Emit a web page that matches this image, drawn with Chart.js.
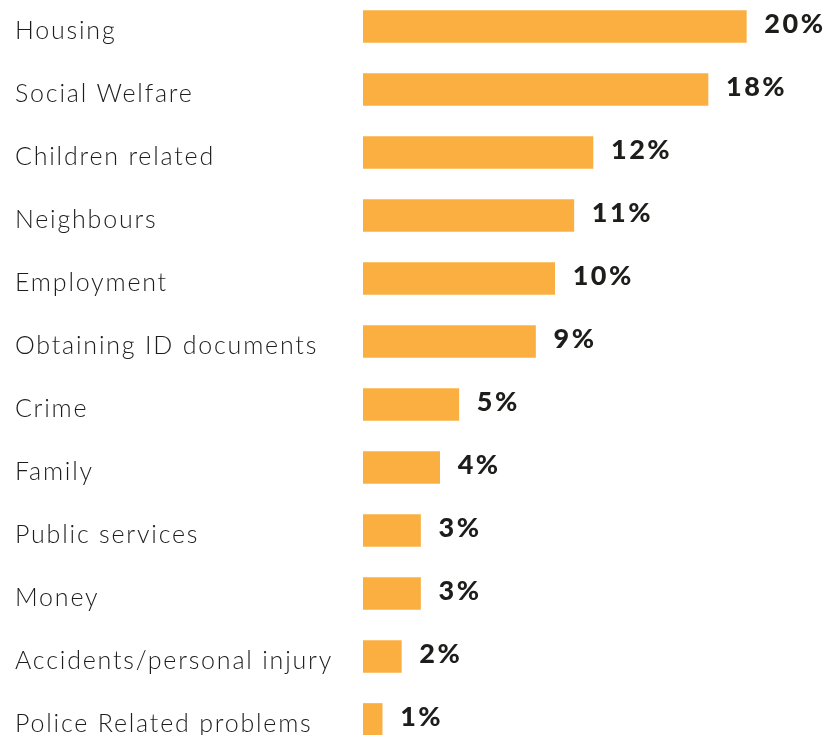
<!DOCTYPE html>
<html>
<head>
<meta charset="utf-8">
<script src="https://cdn.jsdelivr.net/npm/chart.js@4.4.1/dist/chart.umd.min.js"></script>
<style>
    html, body { margin: 0; padding: 0; background: #fff; overflow: hidden; }
    #wrap { position: relative; width: 836px; height: 792px; top: -23px; }
</style>
</head>
<body>
<div id="wrap"><canvas id="chart"></canvas></div>
<script>
// Data
const categories = [
    'Housing', 'Social Welfare', 'Children related', 'Neighbours', 'Employment',
    'Obtaining ID documents', 'Crime', 'Family', 'Public services', 'Money',
    'Accidents/personal injury', 'Police Related problems'
];
const shares = [20, 18, 12, 11, 10, 9, 5, 4, 3, 3, 2, 1];

const barColor = '#FBAF41';
const textColor = '#1d1d1b';

// wider letter spacing for the category labels
const spacing = {
    id: 'spacing',
    beforeDraw(chart) {
        chart.ctx.letterSpacing = '1.8px';
    }
};

// Percent labels to the right of each bar
const valueLabels = {
    id: 'valueLabels',
    afterDatasetsDraw(chart) {
        const ctx = chart.ctx;
        const meta = chart.getDatasetMeta(0);
        ctx.save();
        ctx.font = '900 27px Lato';
        ctx.fillStyle = textColor;
        ctx.textAlign = 'left';
        ctx.textBaseline = 'middle';
        ctx.letterSpacing = '2.5px';
        meta.data.forEach((bar, i) => {
            ctx.fillText(shares[i] + '%', bar.x + 18, bar.y - 2);
        });
        ctx.restore();
    }
};

new Chart(document.getElementById('chart'), {
    type: 'bar',
    data: {
        labels: categories,
        datasets: [{
            data: shares,
            backgroundColor: barColor,
            barThickness: 32
        }]
    },
    options: {
        indexAxis: 'y',
        responsive: true,
        maintainAspectRatio: false,
        animation: false,
        layout: { padding: { left: 15, right: 13, top: 0, bottom: 0 } },
        plugins: {
            legend: { display: false },
            tooltip: { enabled: false }
        },
        scales: {
            x: {
                display: false,
                min: 0,
                max: 24
            },
            y: {
                grid: { display: false },
                border: { display: false },
                afterFit(scale) { scale.width = 348; },
                ticks: {
                    crossAlign: 'far',
                    labelOffset: 4,
                    color: textColor,
                    font: { family: 'Lato', size: 25, weight: '300' }
                }
            }
        }
    },
    plugins: [spacing, valueLabels]
});
</script>
</body>
</html>
